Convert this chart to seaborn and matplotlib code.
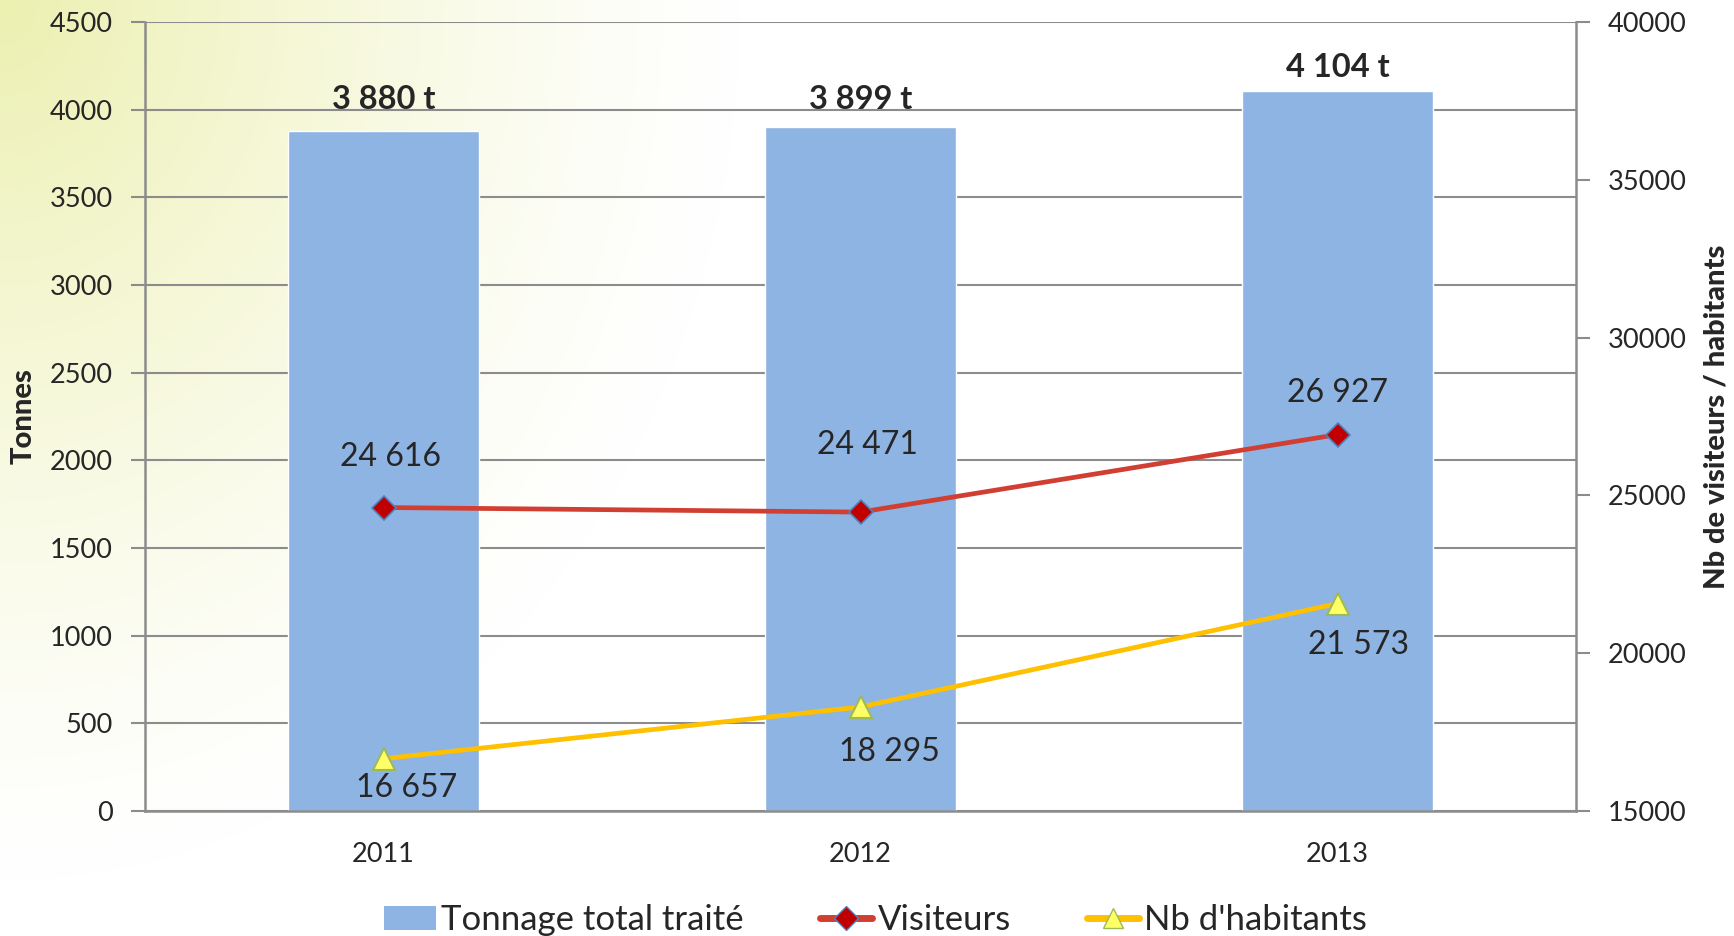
import numpy as np
import matplotlib
matplotlib.use("Agg")
import matplotlib.pyplot as plt
from matplotlib.patches import Patch
from matplotlib.lines import Line2D
import seaborn as sns

# Données
annees = ["2011", "2012", "2013"]
tonnage = [3880, 3899, 4104]
tonnage_labels = ["3 880 t", "3 899 t", "4 104 t"]
visiteurs = [24616, 24471, 26927]
visiteurs_labels = ["24 616", "24 471", "26 927"]
habitants = [16657, 18295, 21573]
habitants_labels = ["16 657", "18 295", "21 573"]

# Couleurs
c_barre = "#8EB4E3"
c_visit = "#D13F33"
c_hab = "#FFC000"
c_grid = "#8C8C8C"

sns.set_style("white")
plt.rcParams["font.family"] = ["Lato", "DejaVu Sans"]

W, H = 1734, 936
fig = plt.figure(figsize=(W / 100, H / 100), dpi=100)

# Fond dégradé jaune (coin supérieur gauche)
bg = fig.add_axes([0, 0, 1, 1], zorder=-10)
yy, xx = np.mgrid[0:H, 0:W]
d = np.sqrt((xx / 740.0) ** 2 + (yy / 880.0) ** 2)
a = np.clip(1 - d, 0, 1) ** 1.3
jaune = np.array([236, 240, 176]) / 255.0
img = np.ones((H, W, 3)) * (1 - a[..., None]) + jaune * a[..., None]
bg.imshow(img, aspect="auto", extent=(0, 1, 0, 1), origin="upper")
bg.axis("off")

ax = fig.add_axes([145 / W, 1 - 811 / H, 1431 / W, 789 / H])
ax.set_facecolor("none")

sns.barplot(x=annees, y=tonnage, ax=ax, color=c_barre, saturation=1, width=0.4)
ax.set_ylim(0, 4500)
ax.set_yticks(np.arange(0, 4501, 500))
ax.set_axisbelow(True)
ax.yaxis.grid(True, color=c_grid, linewidth=1.5)
ax.set_xlim(-0.5, 2.5)

off_barre = [31, 28, 24]
for i, (v, lab) in enumerate(zip(tonnage, tonnage_labels)):
    ax.annotate(lab, (i, v), xytext=(0, off_barre[i]), textcoords="offset pixels",
                ha="center", va="center", fontsize=23.5, fontweight="bold")

ax2 = ax.twinx()
ax2.set_facecolor("none")
x = np.arange(len(annees))
sns.lineplot(x=x, y=visiteurs, ax=ax2, color=c_visit, linewidth=3.4,
             marker="D", markersize=12, markerfacecolor="#C00000",
             markeredgecolor="#4F81BD", markeredgewidth=1.2)
sns.lineplot(x=x, y=habitants, ax=ax2, color=c_hab, linewidth=3.4,
             marker="^", markersize=16, markerfacecolor="#FFFF66",
             markeredgecolor="#9BBB59", markeredgewidth=1.5)
ax2.set_ylim(15000, 40000)
ax2.set_yticks(np.arange(15000, 40001, 5000))
ax2.set_xlim(-0.5, 2.5)

off_visit = [(7, 51), (7, 67), (0, 42)]
off_hab = [(23, -29), (29, -45), (21, -41)]
for i in range(len(annees)):
    ax2.annotate(visiteurs_labels[i], (i, visiteurs[i]), xytext=off_visit[i],
                 textcoords="offset pixels", ha="center", va="center", fontsize=23)
    ax2.annotate(habitants_labels[i], (i, habitants[i]), xytext=off_hab[i],
                 textcoords="offset pixels", ha="center", va="center", fontsize=23)

# Axes et ticks
for a_ in (ax, ax2):
    for s in a_.spines.values():
        s.set_visible(False)
ax.spines["left"].set_visible(True)
ax.spines["bottom"].set_visible(True)
ax2.spines["right"].set_visible(True)
for s in (ax.spines["left"], ax.spines["bottom"], ax2.spines["right"]):
    s.set_color(c_grid)
    s.set_linewidth(1.8)

ax.set_xticks([-0.5, 0.5, 1.5, 2.5], labels=[])
ax.set_xticks(x, labels=annees, minor=True)
ax.tick_params(axis="x", which="major", length=10, width=1.5, color=c_grid, direction="out")
ax.tick_params(axis="x", which="minor", length=0, pad=22, labelsize=19.5)
ax.tick_params(axis="y", length=10, width=1.5, color=c_grid, direction="out", pad=13,
               labelsize=19.5, left=True)
ax2.tick_params(axis="y", length=10, width=1.5, color=c_grid, direction="out", pad=13,
                labelsize=19.5, right=True)
ax2.set_xticks([])
ax.set_xlabel("")

ax.set_ylabel("Tonnes", fontsize=21, fontweight="black")
ax.yaxis.set_label_coords((37 - 145) / 1431, 0.5)
ax2.set_ylabel("Nb de visiteurs / habitants", fontsize=21, fontweight="black")
ax2.yaxis.set_label_coords((1703 - 145) / 1431, 0.5)

# Légende
handles = [
    Patch(facecolor=c_barre, edgecolor="none"),
    Line2D([0], [0], color=c_visit, linewidth=5, marker="D", markersize=12,
           markerfacecolor="#C00000", markeredgecolor="#4F81BD"),
    Line2D([0], [0], color=c_hab, linewidth=5, marker="^", markersize=15,
           markerfacecolor="#FFFF66", markeredgecolor="#9BBB59"),
]
labels = ["Tonnage total traité", "Visiteurs", "Nb d'habitants"]
fig.legend(handles, labels, loc="center", bbox_to_anchor=(0.505, 16 / H), ncol=3,
           frameon=False, handlelength=1.5, handletextpad=0.15, columnspacing=2.2,
           prop={"size": 25})

fig.savefig("out.png", dpi=100)
